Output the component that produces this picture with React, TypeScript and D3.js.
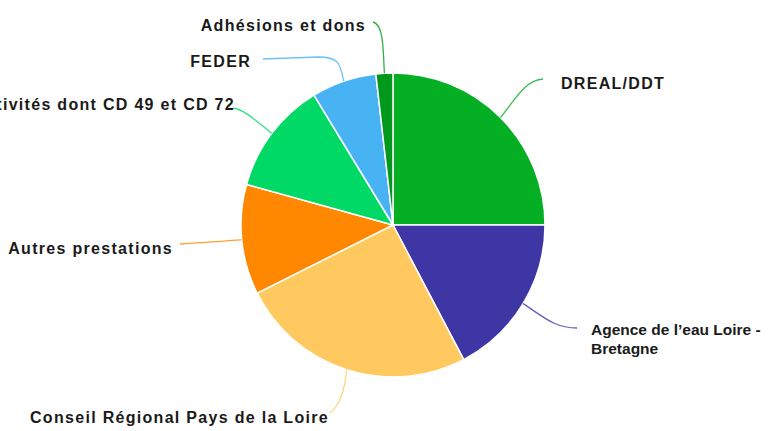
import React from "react";
import * as d3 from "d3";

const categories = [
  "DREAL/DDT",
  "Agence de l’eau Loire - Bretagne",
  "Conseil Régional Pays de la Loire",
  "Autres prestations",
  "Collectivités dont CD 49 et CD 72",
  "FEDER",
  "Adhésions et dons",
];
const values = [25.0, 17.3, 25.3, 11.7, 12.0, 6.9, 1.8];
const colors = ["#05af24", "#3f36a6", "#ffc960", "#ff8800", "#00d965", "#48b3f3", "#00991c"];

// label layout: leader end point, text anchor point, alignment
const labelLayout = [
  { end: [543, 79], c1: [515, 100], c2: [525, 80], tx: 561, ty: 89, anchor: "start", lines: ["DREAL/DDT"], spaced: true },
  { end: [577, 328], c1: [545, 318], c2: [555, 328], tx: 591, ty: 335, anchor: "start", lines: ["Agence de l’eau Loire -", "Bretagne"], spaced: false },
  { end: [330, 413], c1: [345, 390], c2: [340, 405], tx: 30, ty: 423, anchor: "start", lines: ["Conseil Régional Pays de la Loire"], spaced: true },
  { end: [180, 244], c1: [220, 241], c2: [200, 243], tx: 173, ty: 254, anchor: "end", lines: ["Autres prestations"], spaced: true },
  { end: [233, 108], c1: [255, 120], c2: [245, 110], tx: 235, ty: 110, anchor: "end", lines: ["Collectivités dont CD 49 et CD 72"], spaced: true },
  { end: [263, 59], c1: [340, 62], c2: [338, 57], tx: 251, ty: 67, anchor: "end", lines: ["FEDER"], spaced: true, via: [318, 57] },
  { end: [373, 22], c1: [383, 50], c2: [384, 25], tx: 366, ty: 31, anchor: "end", lines: ["Adhésions et dons"], spaced: true },
];

const W = 768;
const H = 431;
const cx = 393;
const cy = 225;
const R = 152;

export default function App() {
  const pie = d3.pie<number>().sort(null).value((d) => d).startAngle(0).endAngle(2 * Math.PI);
  const arcs = pie(values);
  const arc = d3.arc<d3.PieArcDatum<number>>().innerRadius(0).outerRadius(R);

  return (
    <svg width={W} height={H} style={{ position: "absolute", left: 0, top: 0, background: "#fff" }}>
      <g transform={`translate(${cx},${cy})`}>
        {arcs.map((a, i) => (
          <path key={i} d={arc(a) || ""} fill={colors[i]} stroke="#fff" strokeWidth={1.5} />
        ))}
      </g>
      {arcs.map((a, i) => {
        const mid = (a.startAngle + a.endAngle) / 2;
        const sx = cx + R * Math.sin(mid);
        const sy = cy - R * Math.cos(mid);
        const L = labelLayout[i];
        const p = d3.path();
        p.moveTo(sx, sy);
        if (L.via) {
          p.bezierCurveTo(L.c1[0], L.c1[1], L.c2[0], L.c2[1], L.via[0], L.via[1]);
          p.lineTo(L.end[0], L.end[1]);
        } else {
          p.bezierCurveTo(L.c1[0], L.c1[1], L.c2[0], L.c2[1], L.end[0], L.end[1]);
        }
        return (
          <path key={"l" + i} d={p.toString()} fill="none" stroke={colors[i]} strokeOpacity={0.8} strokeWidth={1.3} />
        );
      })}
      {labelLayout.map((L, i) => (
        <text
          key={"t" + i}
          x={L.tx}
          y={L.ty}
          textAnchor={L.anchor as any}
          fontFamily="'Liberation Sans', Arial, sans-serif"
          fontWeight="bold"
          fontSize={L.spaced ? 16 : 15.5}
          letterSpacing={L.spaced ? 1.3 : 0}
          fill="#1a1a1a"
        >
          {L.lines.map((ln, j) => (
            <tspan key={j} x={L.tx} dy={j === 0 ? 0 : 19}>
              {ln}
            </tspan>
          ))}
        </text>
      ))}
    </svg>
  );
}
